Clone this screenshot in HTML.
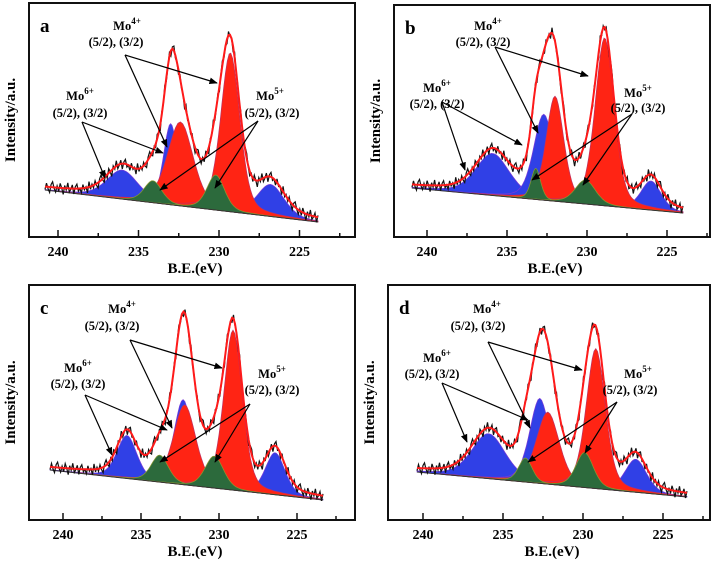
<!DOCTYPE html>
<html><head><meta charset="utf-8"><style>
html,body{margin:0;padding:0;background:#fff;}
svg{display:block;font-family:"Liberation Serif",serif;}
</style></head><body>
<svg id="fig" width="715" height="565" viewBox="0 0 715 565"></svg>
<script>
// ---- data: components per panel [eV center, height(px above baseline), fwhm(eV)] ----
const panelIds = ['a','b','c','d'];
const blueA = [[236.0,29,2.3],[233.0,81,1.05],[226.8,32,2.0]];
const redA = [[232.4,84,1.9],[229.3,159,1.4]];
const greenA = [[234.1,22,1.3],[230.2,35,1.3]];
const blueB = [[235.9,42,2.5],[232.7,86,1.5],[226.0,29,1.5]];
const redB = [[232.0,105,1.3],[228.9,168,1.4]];
const greenB = [[233.2,31,0.7],[230.1,24,1.5]];
const blueC = [[235.9,43,1.5],[232.3,85,1.4],[226.4,42,1.5]];
const redC = [[232.2,80,1.7],[229.1,160,1.4]];
const greenC = [[233.8,27,1.3],[230.3,32,1.4]];
const blueD = [[235.9,45,2.5],[232.7,85,1.5],[226.7,33,1.6]];
const redD = [[232.2,72,1.7],[229.2,140,1.4]];
const greenD = [[233.6,24,1.0],[229.9,35,1.3]];
const residual = [3,-4,2,6,-3,-6,1,5,-2,4,-5,0,7,-3,2,-6,4,1,-4,6,-2,-5,3,0,5,-4,2,-1,6,-6,3,-2];
const tickValues = [240,235,230,225];
const xTitle = 'B.E.(eV)';
const yTitle = 'Intensity/a.u.';

const NS='http://www.w3.org/2000/svg';
const svg=document.getElementById('fig');
function mk(tag,attrs,parent){const e=document.createElementNS(NS,tag);for(const k in attrs)e.setAttribute(k,attrs[k]);(parent||svg).appendChild(e);return e;}

const geo = {
 a:{box:[29,3,355,237],x240:58,k:16.1,bl:[45,190,318,222],blue:blueA,red:redA,green:greenA,
    ann:{m4:[127,30,116,46,[125,55],[[217,83],[167,147]]],m6:[80,100,80,117,[82,122],[[105,178],[163,153]]],m5:[270,100,272,117,[258,121],[[160,190],[215,188]]]}},
 b:{box:[394,5,710,237],x240:427,k:16,bl:[412,188,683,213],blue:blueB,red:redB,green:greenB,
    ann:{m4:[488,30,483,46,[495,47],[[588,76],[538,133]]],m6:[437,92,437,108,[442,102],[[465,170],[522,145]]],m5:[638,97,638,112,[632,114],[[532,180],[583,185]]]}},
 c:{box:[29,285,355,520],x240:63,k:15.6,bl:[50,470,323,500],blue:blueC,red:redC,green:greenC,
    ann:{m4:[122,313,112,330,[130,340],[[222,368],[172,428]]],m6:[78,372,78,388,[85,395],[[112,455],[167,430]]],m5:[272,378,272,394,[250,404],[[160,462],[215,462]]]}},
 d:{box:[388,285,710,520],x240:423,k:16,bl:[417,472,687,497],blue:blueD,red:redD,green:greenD,
    ann:{m4:[487,313,478,330,[488,342],[[582,370],[530,428]]],m6:[437,362,432,378,[442,383],[[467,442],[528,420]]],m5:[638,378,630,394,[617,402],[[528,462],[585,453]]]}}
};

mk('defs',{}).innerHTML='<marker id="ah" viewBox="0 0 10 10" refX="9" refY="5" markerWidth="7" markerHeight="7" orient="auto-start-reverse"><path d="M0,1 L10,5 L0,9 z" fill="#000"/></marker>';

function peak(e,c){const s=c[2]/2.3548;const g=Math.exp(-0.5*((e-c[0])/s)**2);const hw=c[2]/2;const l=1/(1+((e-c[0])/hw)**2);return c[1]*(0.65*g+0.35*l);}

panelIds.forEach(id=>{
 const G=geo[id];
 const g=mk('g',{});
 
 
 const xs=e=>G.x240+(240-e)*G.k;
 const [bx1,by1,bx2,by2]=G.bl;
 const base=x=>by1+(x-bx1)*(by2-by1)/(bx2-bx1);
 const e0=240-(bx1-G.x240)/G.k, e1=240-(bx2-G.x240)/G.k;
 const N=180; const es=[];for(let i=0;i<=N;i++)es.push(e0+(e1-e0)*i/N);
 const comps=[['blue',G.blue,'#3040e6','#7a3ad8'],['red',G.red,'#ff2414','#c03060'],['green',G.green,'#2c6a3c','#8a9a30']];
 comps.forEach(([name,arr,fill,stroke])=>{
  arr.forEach((c,j)=>{
   const pts=[];const lo=Math.min(c[0]+4*c[2],e0),hi=Math.max(c[0]-4*c[2],e1);
   for(let i=0;i<=100;i++){const e=lo+(hi-lo)*i/100;const x=xs(e);pts.push([x,base(x)-peak(e,c)]);}
   let d='M'+pts.map(p=>p[0].toFixed(1)+','+p[1].toFixed(1)).join(' L');
   d+=' L'+xs(hi).toFixed(1)+','+base(xs(hi)).toFixed(1)+' L'+xs(lo).toFixed(1)+','+base(xs(lo)).toFixed(1)+' Z';
   const p=mk('path',{d:d,fill:fill,stroke:stroke,'stroke-width':0.7},g);
   
   
  });
 });
 const bline=mk('line',{x1:bx1,y1:by1,x2:bx2,y2:by2,stroke:'#333','stroke-width':1},g);
 
 
 const all=G.blue.concat(G.red,G.green);
 const env=es.map(e=>{const x=xs(e);let s=0;all.forEach(c=>s+=peak(e,c));return [x,base(x)-s-2];});
 const raw=env.map((p,i)=>[p[0],p[1]+residual[i%residual.length]*0.9]);
 const dl=mk('path',{d:'M'+raw.map(p=>p[0].toFixed(1)+','+p[1].toFixed(1)).join(' L'),fill:'none',stroke:'#111','stroke-width':1.2},g);
 
 
 const el=mk('path',{d:'M'+env.map(p=>p[0].toFixed(1)+','+p[1].toFixed(1)).join(' L'),fill:'none',stroke:'#ff1a1a','stroke-width':2},g);
 
 
 const [x1,y1,x2,y2]=G.box;
 const fr=mk('rect',{x:x1,y:y1,width:x2-x1,height:y2-y1,fill:'none',stroke:'#111','stroke-width':2},g);
 
 
 for(let e=242.5;e>=222;e-=2.5){const x=xs(e);if(x<x1+2||x>x2-2)continue;const major=Math.abs(e%5)<0.01;
  mk('line',{x1:x,y1:y2,x2:x,y2:y2-(major?7:4),stroke:'#111','stroke-width':1.5},g);}
 tickValues.forEach(v=>{const t=mk('text',{x:xs(v),y:y2+19,'text-anchor':'middle','font-size':14,'font-weight':'bold'},g);t.textContent=v;
  
  });
 const xt=mk('text',{x:(x1+x2)/2+3,y:y2+36,'text-anchor':'middle','font-size':15,'font-weight':'bold'},g);xt.textContent=xTitle;
 
 
 const yx=x1-14,yy=(y1+y2)/2;
 const yt=mk('text',{x:yx,y:yy,'text-anchor':'middle','font-size':15,'font-weight':'bold',transform:'rotate(-90 '+yx+' '+yy+')'},g);yt.textContent=yTitle;
 
 
 const pl=mk('text',{x:x1+11,y:y1+29,'font-size':19,'font-weight':'bold'},g);pl.textContent=id;
 
 
 [['m4','4+'],['m6','6+'],['m5','5+']].forEach(([k,sup])=>{
  const A=G.ann[k];
  const t=mk('text',{x:A[0],y:A[1],'text-anchor':'middle','font-size':12.5,'font-weight':'bold'},g);
  t.innerHTML='Mo<tspan dy="-6" font-size="9">'+sup+'</tspan>';
  
  
  const t2=mk('text',{x:A[2],y:A[3],'text-anchor':'middle','font-size':12.5,'font-weight':'bold'},g);
  t2.textContent='(5/2), (3/2)';
  
  
  A[5].forEach(en=>{const ar=mk('line',{x1:A[4][0],y1:A[4][1],x2:en[0],y2:en[1],stroke:'#000','stroke-width':1.2,'marker-end':'url(#ah)'},g);
   
   });
 });
});
</script>
</body></html>
